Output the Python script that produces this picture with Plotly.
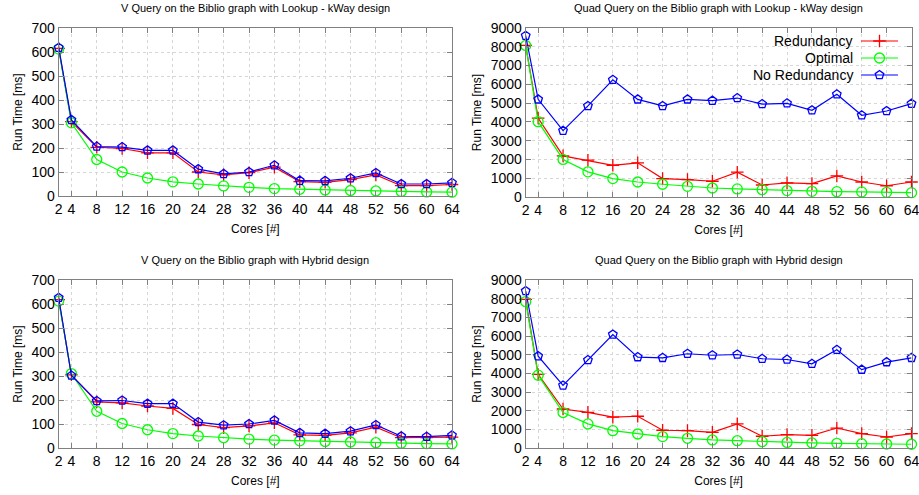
import plotly.graph_objects as go

cores = [2, 4, 8, 12, 16, 20, 24, 28, 32, 36, 40, 44, 48, 52, 56, 60, 64]

# V Query, Lookup - kWay
v_kway_red = [615, 310, 203, 198, 180, 180, 100, 88, 97, 120, 60, 57, 68, 88, 43, 43, 48]
v_kway_green = [612, 305, 152, 100, 75, 59, 50, 42, 36, 31, 28, 25, 23, 21, 19, 17, 16]
v_kway_blue = [618, 317, 206, 204, 190, 190, 112, 92, 100, 128, 64, 63, 74, 96, 50, 50, 55]

# Quad Query, Lookup - kWay
q_kway_red = [8070, 4200, 2190, 1960, 1690, 1820, 980, 930, 840, 1320, 640, 750, 710, 1120, 800, 600, 800]
q_kway_green = [8070, 4010, 2000, 1340, 980, 800, 680, 570, 480, 430, 390, 340, 300, 285, 270, 250, 230]
q_kway_blue = [8590, 5200, 3530, 4850, 6240, 5200, 4850, 5200, 5130, 5270, 4950, 4990, 4620, 5470, 4350, 4580, 4970]

# V Query, Hybrid
v_hyb_red = [618, 305, 192, 188, 175, 165, 98, 85, 92, 105, 55, 53, 63, 87, 43, 43, 45]
v_hyb_green = [612, 310, 153, 102, 76, 60, 50, 43, 37, 33, 30, 27, 25, 22, 20, 18, 17]
v_hyb_blue = [626, 302, 196, 198, 185, 185, 108, 95, 100, 115, 63, 60, 70, 96, 49, 47, 53]

# Quad Query, Hybrid
q_hyb_red = [7960, 3940, 2090, 1910, 1650, 1700, 950, 930, 840, 1290, 630, 720, 680, 1070, 770, 590, 770]
q_hyb_green = [7840, 3900, 1900, 1290, 930, 750, 610, 520, 430, 390, 340, 300, 270, 250, 230, 215, 200]
q_hyb_blue = [8410, 4920, 3350, 4710, 6080, 4870, 4830, 5050, 4970, 5010, 4780, 4740, 4510, 5260, 4200, 4600, 4830]

titles = [
    "V Query on the Biblio graph with Lookup - kWay design",
    "Quad Query on the Biblio graph with Lookup - kWay design",
    "V Query on the Biblio graph with Hybrid design",
    "Quad Query on the Biblio graph with Hybrid design",
]
series_names = ["Redundancy", "Optimal", "No Redundancy"]
y_ticks_v = [0, 100, 200, 300, 400, 500, 600, 700]
y_ticks_q = [0, 1000, 2000, 3000, 4000, 5000, 6000, 7000, 8000, 9000]

RED, GREEN, BLUE = "#ff0000", "#00ff00", "#0000ff"
styles = [
    dict(color=RED, symbol="cross-thin-open", size=9),
    dict(color=GREEN, symbol="circle-open", size=10),
    dict(color=BLUE, symbol="pentagon-open", size=9),
]

W, H = 919, 495
FONT = "Liberation Sans"
FRAME = "#808080"

panels = [
    dict(data=[v_kway_red, v_kway_green, v_kway_blue], x=(58.7, 452), y=(28, 196), yt=y_ticks_v, ymax=700),
    dict(data=[q_kway_red, q_kway_green, q_kway_blue], x=(525.7, 911.5), y=(28, 197), yt=y_ticks_q, ymax=9000),
    dict(data=[v_hyb_red, v_hyb_green, v_hyb_blue], x=(58.7, 452), y=(280, 448), yt=y_ticks_v, ymax=700),
    dict(data=[q_hyb_red, q_hyb_green, q_hyb_blue], x=(525.7, 911.5), y=(280, 448), yt=y_ticks_q, ymax=9000),
]

fig = go.Figure()
layout = dict(
    template="none",
    width=W, height=H, margin=dict(l=0, r=0, t=0, b=0, pad=0),
    paper_bgcolor="white", plot_bgcolor="rgba(0,0,0,0)", showlegend=False,
    font=dict(family=FONT, color="#000000"),
)
annotations = []

for i, p in enumerate(panels):
    n = i + 1
    xa = "xaxis" if n == 1 else f"xaxis{n}"
    ya = "yaxis" if n == 1 else f"yaxis{n}"
    xr = "x" if n == 1 else f"x{n}"
    yr = "y" if n == 1 else f"y{n}"
    for vals, st, name in zip(p["data"], styles, series_names):
        fig.add_trace(go.Scatter(
            x=cores, y=vals, mode="lines+markers", name=name,
            line=dict(color=st["color"], width=1.2),
            marker=dict(symbol=st["symbol"], size=st["size"], color=st["color"],
                        line=dict(color=st["color"], width=1.3)),
            xaxis=xr, yaxis=yr, cliponaxis=False,
        ))
    axcommon = dict(
        showline=True, linecolor=FRAME, linewidth=1, mirror="allticks",
        ticks="inside", ticklen=5, tickcolor=FRAME, tickwidth=1,
        showgrid=True, gridcolor="#d6d6d6", griddash="dot", gridwidth=1,
        zeroline=False, tickfont=dict(size=14, family=FONT), automargin=False,
        ticklabeloverflow="allow",
    )
    layout[xa] = dict(
        axcommon, domain=[p["x"][0] / W, p["x"][1] / W], range=[2, 64],
        tickvals=cores, ticktext=[str(c) for c in cores], anchor=yr,
        title=dict(text="Cores [#]", font=dict(size=12, family=FONT), standoff=8),
    )
    layout[ya] = dict(
        axcommon, domain=[1 - p["y"][1] / H, 1 - p["y"][0] / H], range=[0, p["ymax"]],
        tickvals=p["yt"], anchor=xr,
        title=dict(text="Run Time [ms]", font=dict(size=12, family=FONT), standoff=6),
    )
    annotations.append(dict(
        text=titles[i], xref="paper", yref="paper",
        x=(p["x"][0] + p["x"][1]) / 2 / W, y=1 - (p["y"][0] - 20) / H,
        xanchor="center", yanchor="middle", showarrow=False,
        font=dict(size=11, family=FONT),
    ))

# manual legend (text on left, sample on right) in top-right panel, gnuplot style
leg_rows = [41, 58, 75]
leg_text_right = 855
leg_line = (861, 898)
layout["xaxis5"] = dict(domain=[0, 1], range=[0, W], visible=False, fixedrange=True,
                        anchor="y5", automargin=False)
layout["yaxis5"] = dict(domain=[0, 1], range=[H, 0], visible=False, fixedrange=True,
                        anchor="x5", automargin=False)
for name, st, yy in zip(series_names, styles, leg_rows):
    annotations.append(dict(
        text=name, xref="paper", yref="paper", x=leg_text_right / W, y=1 - yy / H,
        xanchor="right", yanchor="middle", showarrow=False, font=dict(size=14, family=FONT),
    ))
    fig.add_trace(go.Scatter(
        x=[leg_line[0], leg_line[1]], y=[yy, yy], mode="lines",
        line=dict(color=st["color"], width=1.2), xaxis="x5", yaxis="y5", hoverinfo="skip",
    ))
    fig.add_trace(go.Scatter(
        x=[(leg_line[0] + leg_line[1]) / 2], y=[yy], mode="markers",
        marker=dict(symbol=st["symbol"], size=st["size"], color=st["color"],
                    line=dict(color=st["color"], width=1.3)),
        xaxis="x5", yaxis="y5", hoverinfo="skip",
    ))

layout["annotations"] = annotations
fig.update_layout(**layout)
fig.write_html("out.html", config={"displayModeBar": False},
               post_script="document.body.style.margin='0';")
